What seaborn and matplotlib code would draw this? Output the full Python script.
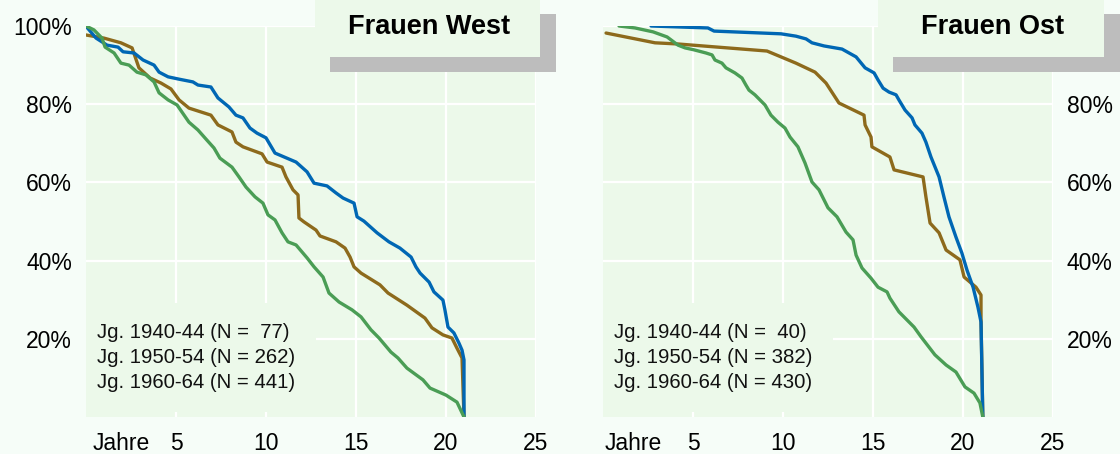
import matplotlib
matplotlib.use("Agg")
import matplotlib.pyplot as plt
from matplotlib.patches import Rectangle
import numpy as np
import pandas as pd
import seaborn as sns

# ---------------- data ----------------
panels = ["Frauen West", "Frauen Ost"]
kohorten = ["Jg. 1940-44", "Jg. 1950-54", "Jg. 1960-64"]
n_west = [" 77", "262", "441"]
n_ost = [" 40", "382", "430"]
x_ticks = [5, 10, 15, 20, 25]
x_labels = ["5", "10", "15", "20", "25"]
y_ticks = [20, 40, 60, 80, 100]
y_labels_west = ["20%", "40%", "60%", "80%", "100%"]
y_labels_ost = ["20%", "40%", "60%", "80%", ""]

west_1940_x = [0, 0.08, 0.56, 1.17, 1.78, 2.06, 2.67, 3.17, 3.78, 4.06, 4.56, 5.17, 5.94, 6.22, 6.94, 7.33, 7.94, 8.33, 8.72, 9.11, 9.5, 10.0, 10.5, 11.67, 12.28, 12.67, 13.39, 13.89, 14.28, 14.89, 15.06, 15.44, 16.17, 16.83, 17.44, 18.06, 18.33, 18.56, 19.06, 19.33, 19.83, 19.94, 20.11, 20.44, 20.72, 20.89, 21.0, 21.0]
west_1940_y = [100, 99.5, 96.9, 95.1, 94.6, 93.4, 93.1, 91.3, 90.0, 88.2, 87.0, 86.4, 85.7, 84.9, 84.4, 81.6, 79.3, 77.2, 76.5, 73.9, 72.6, 71.4, 67.5, 65.2, 62.7, 59.8, 59.1, 57.3, 56.0, 54.7, 51.2, 50.1, 47.1, 44.8, 43.2, 40.9, 38.4, 36.8, 34.5, 32.0, 29.9, 27.4, 23.0, 21.5, 18.9, 17.1, 14.6, 0]

west_1950_x = [0, 1.0, 1.94, 2.56, 2.94, 3.56, 4.17, 4.72, 5.17, 5.72, 6.94, 7.33, 8.11, 8.33, 8.72, 9.78, 10.06, 10.89, 11.11, 11.5, 11.78, 11.83, 12.11, 12.78, 13.0, 13.89, 14.39, 14.67, 14.89, 15.28, 16.33, 16.78, 17.83, 18.83, 19.22, 19.83, 20.33, 20.61, 20.89, 21.0]
west_1950_y = [97.7, 96.9, 95.7, 94.4, 89.3, 86.7, 85.4, 83.9, 81.1, 79.0, 77.2, 74.7, 72.9, 70.3, 69.1, 67.3, 65.2, 63.9, 61.4, 58.1, 56.8, 50.9, 49.9, 47.8, 46.3, 44.8, 43.2, 40.9, 38.4, 36.8, 33.8, 31.7, 28.6, 25.3, 22.8, 21.0, 20.2, 17.6, 15.1, 0]

west_1960_x = [0, 0.44, 0.89, 1.06, 1.56, 1.94, 2.39, 2.83, 3.33, 3.78, 4.06, 4.56, 5.06, 5.33, 5.72, 6.22, 6.72, 7.11, 7.44, 8.11, 8.5, 8.89, 9.39, 9.83, 10.11, 10.5, 10.89, 11.22, 11.67, 12.28, 12.67, 13.17, 13.5, 14.06, 14.78, 15.28, 15.83, 16.28, 16.94, 17.33, 17.83, 18.72, 19.11, 20.0, 20.61, 21.0]
west_1960_y = [100, 99.0, 96.9, 94.6, 93.1, 90.5, 90.0, 88.2, 87.5, 85.7, 82.9, 81.1, 79.8, 78.0, 75.4, 73.4, 70.8, 68.8, 66.2, 63.9, 61.4, 58.8, 56.3, 54.7, 51.7, 50.4, 47.1, 44.8, 44.0, 40.7, 38.4, 35.8, 31.7, 29.4, 27.4, 25.6, 22.3, 20.2, 16.6, 15.1, 12.5, 9.5, 7.4, 5.6, 3.8, 0]

ost_1940_x = [2.67, 5.83, 6.17, 9.89, 10.72, 11.28, 11.61, 12.28, 13.28, 13.67, 14.06, 14.56, 15.06, 15.28, 15.56, 15.89, 16.28, 16.44, 16.78, 17.17, 17.33, 17.72, 17.94, 18.22, 18.67, 18.94, 19.22, 19.61, 19.94, 20.22, 20.56, 20.83, 21.0, 21.1]
ost_1940_y = [100, 99.5, 98.7, 98.0, 97.4, 96.7, 95.7, 94.9, 94.1, 93.1, 92.1, 89.3, 88.0, 86.2, 84.1, 83.1, 82.4, 81.1, 78.5, 76.5, 74.7, 72.6, 70.3, 66.5, 61.4, 56.3, 51.2, 46.0, 41.9, 37.6, 33.2, 28.1, 24.3, 0]

ost_1950_x = [0.17, 2.89, 4.17, 9.11, 10.72, 11.78, 12.39, 13.11, 14.5, 14.56, 14.89, 14.94, 15.94, 16.17, 17.78, 17.94, 18.17, 18.67, 19.06, 19.83, 20.06, 20.72, 21.0, 21.0, 21.1]
ost_1950_y = [98.2, 95.7, 95.4, 93.6, 90.5, 88.2, 85.4, 80.3, 77.2, 74.7, 71.6, 69.1, 66.5, 63.2, 61.4, 56.3, 49.6, 47.1, 42.7, 40.2, 35.8, 33.2, 31.2, 25.3, 0]

ost_1960_x = [0.89, 1.78, 2.78, 3.56, 4.17, 4.56, 5.06, 5.72, 6.06, 6.22, 6.61, 6.83, 7.33, 7.72, 7.94, 8.11, 8.44, 8.72, 9.0, 9.33, 9.72, 10.11, 10.39, 10.83, 11.22, 11.61, 12.0, 12.5, 13.0, 13.5, 13.89, 14.06, 14.39, 14.89, 15.28, 15.78, 15.94, 16.44, 17.28, 17.67, 18.44, 19.06, 19.61, 20.11, 20.61, 20.94, 21.1]
ost_1960_y = [100, 99.5, 98.5, 97.2, 95.1, 94.4, 93.9, 93.1, 92.6, 91.3, 90.5, 89.3, 88.0, 86.7, 84.9, 83.6, 82.4, 81.1, 79.8, 77.2, 75.4, 73.9, 71.6, 69.1, 65.0, 60.1, 58.1, 53.5, 51.2, 47.3, 45.3, 41.4, 38.1, 35.5, 33.2, 32.0, 30.4, 26.9, 23.0, 20.5, 15.9, 13.3, 11.5, 7.7, 6.1, 3.6, 0]

# ---------------- style ----------------
fig_bg = "#f6fdf8"
ax_bg = "#ecf9ea"
colors = ["#0067b4", "#8d6a1c", "#4a9d55"]
zorders = [3, 2, 4]

sns.set_style("white")
plt.rcParams["font.family"] = ["Liberation Sans", "DejaVu Sans"]

series = {
    "Frauen West": [(west_1940_x, west_1940_y), (west_1950_x, west_1950_y), (west_1960_x, west_1960_y)],
    "Frauen Ost": [(ost_1940_x, ost_1940_y), (ost_1950_x, ost_1950_y), (ost_1960_x, ost_1960_y)],
}
ns = {"Frauen West": n_west, "Frauen Ost": n_ost}
ylabs = {"Frauen West": y_labels_west, "Frauen Ost": y_labels_ost}

rows = []
for p in panels:
    for k, n, (xs, ys) in zip(kohorten, ns[p], series[p]):
        lab = f"{k} (N = {n})"
        for i, (xv, yv) in enumerate(zip(xs, ys)):
            rows.append({"panel": p, "label": lab, "order": i, "jahre": xv, "anteil": yv})
df = pd.DataFrame(rows)

W, H = 1120, 454
fig = plt.figure(figsize=(W / 100, H / 100), dpi=100, facecolor=fig_bg)

ax_left_px = {"Frauen West": 86, "Frauen Ost": 603}
ax_w_px, ax_top_px, ax_bot_px = 450, 26, 417
jahre_pos = {"Frauen West": 1.97, "Frauen Ost": 1.67}
title_box = {"Frauen West": (315, 540), "Frauen Ost": (878, 1104)}

for p in panels:
    l = ax_left_px[p]
    ax = fig.add_axes([l / W, (H - ax_bot_px) / H, ax_w_px / W, (ax_bot_px - ax_top_px) / H])
    ax.set_facecolor(ax_bg)
    sub = df[df.panel == p]
    labels = [f"{k} (N = {n})" for k, n in zip(kohorten, ns[p])]
    sns.lineplot(data=sub, x="jahre", y="anteil", hue="label", hue_order=labels,
                 palette=dict(zip(labels, colors)), units="label", estimator=None,
                 sort=False, linewidth=2.4, ax=ax)
    for line, z in zip(ax.lines, zorders):
        line.set_zorder(z)
        line.set_solid_joinstyle("round")
        line.set_solid_capstyle("round")
    ax.set_xlim(0, 25)
    ax.set_ylim(0, 100)
    ax.set_xticks(x_ticks)
    ax.set_xticklabels(x_labels)
    ax.set_yticks(y_ticks)
    ax.set_yticklabels(ylabs[p])
    ax.set_xlabel("")
    ax.set_ylabel("")
    ax.grid(True, color="white", linewidth=1.6)
    ax.set_axisbelow(True)
    for s in ax.spines.values():
        s.set_visible(False)
    ax.tick_params(axis="both", length=0, labelsize=16.5, colors="black")
    ax.tick_params(axis="x", pad=11)
    ax.tick_params(axis="y", pad=10)
    if p == "Frauen Ost":
        ax.yaxis.tick_right()
    ax.annotate("Jahre", xy=(jahre_pos[p], 0), xycoords=("data", "axes fraction"),
                xytext=(0, -11), textcoords="offset points", ha="center", va="top",
                fontsize=16.5, color="black")

    handles, labs = ax.get_legend_handles_labels()
    leg = ax.legend(handles, labs, loc="lower left", bbox_to_anchor=(0, 5 / 391),
                    borderaxespad=0, frameon=True, facecolor=ax_bg, edgecolor="none",
                    framealpha=1, fancybox=False, handlelength=0, handletextpad=-0.45,
                    borderpad=1.0, labelspacing=0.28, fontsize=14.7)
    for h in leg.legend_handles:
        h.set_visible(False)
    for t in leg.get_texts():
        t.set_color("#111111")

    # title box with shadow
    x0, x1 = title_box[p]
    fig.add_artist(Rectangle(((x0 + 15) / W, (H - 72) / H), (x1 - x0 + 1) / W, 58 / H,
                             transform=fig.transFigure, facecolor="#bdbdbd",
                             edgecolor="none", zorder=5))
    fig.add_artist(Rectangle((x0 / W, (H - 57) / H), (x1 - x0) / W, 57 / H,
                             transform=fig.transFigure, facecolor=ax_bg,
                             edgecolor="none", zorder=6))
    fig.text((x0 + x1) / 2 / W + 2 / W, (H - 27) / H, p, ha="center", va="center",
             fontsize=19.5, fontweight="bold", color="black", zorder=7)

fig.savefig("out.png", dpi=100, facecolor=fig_bg)
